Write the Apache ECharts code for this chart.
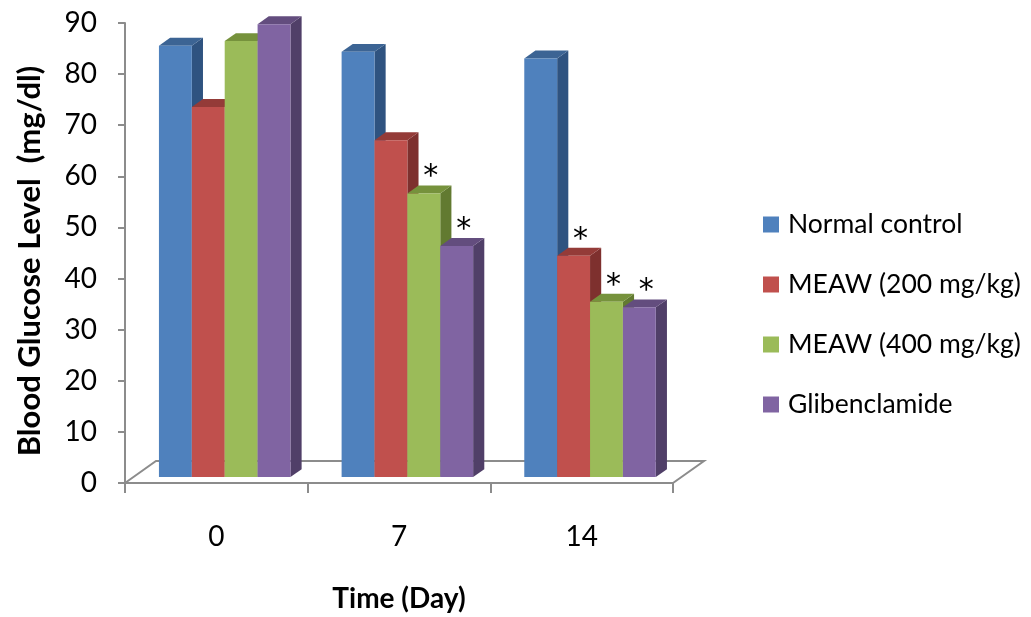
<!DOCTYPE html>
<html>
<head>
<meta charset="utf-8">
<script src="https://cdn.jsdelivr.net/npm/echarts@6/dist/echarts.min.js"></script>
<style>
  html, body { margin: 0; padding: 0; background: #ffffff; }
  #chart { width: 1031px; height: 617px; }
</style>
</head>
<body>
<div id="chart"></div>
<script>
// Blood glucose over the study period, by treatment group
const days = ['0', '7', '14'];
const seriesNames = ['Normal control', 'MEAW (200 mg/kg)', 'MEAW (400 mg/kg)', 'Glibenclamide'];
const normalControl = [84.4, 83.2, 81.9];
const meaw200 = [72.4, 65.9, 43.3];
const meaw400 = [85.3, 55.5, 34.3];
const glibenclamide = [88.6, 45.2, 33.2];
// significance marks (1 = "*")
const normalControlSig = [0, 0, 0];
const meaw200Sig = [0, 0, 1];
const meaw400Sig = [0, 1, 1];
const glibenclamideSig = [0, 1, 1];
const yTicks = { min: 0, max: 90, interval: 10 };

const seriesValues = [normalControl, meaw200, meaw400, glibenclamide];
const seriesSig = [normalControlSig, meaw200Sig, meaw400Sig, glibenclamideSig];

// face colours: front, top, side
const palette = [
  { front: '#4F81BD', top: '#3C6494', side: '#2F5380' },
  { front: '#C0504D', top: '#943B38', side: '#7E302E' },
  { front: '#9BBB59', top: '#76923C', side: '#627A31' },
  { front: '#8064A2', top: '#634D7E', side: '#503F68' }
];

// depth of the floor in pixels, and where the bars sit within it
const DEPTH = [31, -22];
const BAR_FRONT = 0.27;
const BAR_DEPTH = 0.36;
const GROUP_FRACTION = 0.72;
const AXIS_COLOR = '#8C8C8C';
const FONT = 'Lato, "Open Sans", sans-serif';

function barRenderer(sIdx) {
  return function (params, api) {
    const cat = api.value(0);
    const val = api.value(1);
    const sig = api.value(2);
    const base = api.coord([cat, 0]);
    const topPt = api.coord([cat, val]);
    const band = api.size([1, 0])[0];
    const groupW = band * GROUP_FRACTION;
    const barW = groupW / 4;
    const ox = DEPTH[0] * BAR_FRONT, oy = DEPTH[1] * BAR_FRONT;
    const dx = DEPTH[0] * BAR_DEPTH, dy = DEPTH[1] * BAR_DEPTH;
    const x0 = base[0] - groupW / 2 + sIdx * barW + ox;
    const x1 = x0 + barW;
    const yb = base[1] + oy;
    const yt = topPt[1] + oy;
    const c = palette[sIdx];
    const children = [
      { type: 'polygon', shape: { points: [[x1, yb], [x1 + dx, yb + dy], [x1 + dx, yt + dy], [x1, yt]] },
        style: { fill: c.side } },
      { type: 'polygon', shape: { points: [[x0, yt], [x1, yt], [x1 + dx, yt + dy], [x0 + dx, yt + dy]] },
        style: { fill: c.top } },
      { type: 'rect', shape: { x: x0, y: yt, width: barW, height: yb - yt },
        style: { fill: c.front } }
    ];
    if (sig) {
      children.push({
        type: 'text',
        style: {
          text: '*', x: (x0 + x1) / 2 + 7, y: yt - 16,
          fill: '#000000', font: '30px "DejaVu Sans", sans-serif', align: 'center', verticalAlign: 'middle'
        }
      });
    }
    return { type: 'group', children: children };
  };
}

// floor parallelogram behind the bars
function floorRenderer(params, api) {
  const start = api.coord([0, 0]);
  const band = api.size([1, 0])[0];
  const xl = start[0] - band / 2;
  const xr = xl + band * days.length;
  const y = start[1];
  return {
    type: 'polyline',
    shape: { points: [[xl, y], [xl + DEPTH[0], y + DEPTH[1]], [xr + DEPTH[0], y + DEPTH[1]], [xr, y]] },
    style: { stroke: AXIS_COLOR, lineWidth: 2, fill: null }
  };
}

const series = [{
  type: 'custom',
  name: 'floor',
  renderItem: floorRenderer,
  data: [[0, 0]],
  silent: true,
  z: 1
}];
seriesNames.forEach((name, i) => {
  series.push({
    type: 'custom',
    name: name,
    renderItem: barRenderer(i),
    itemStyle: { color: palette[i].front },
    encode: { x: 0, y: 1 },
    data: days.map((d, k) => [k, seriesValues[i][k], seriesSig[i][k]]),
    clip: false,
    z: 2
  });
});

const chart = echarts.init(document.getElementById('chart'), null, { renderer: 'canvas' });
chart.setOption({
  animation: false,
  backgroundColor: '#ffffff',
  grid: { left: 125, right: 358, top: 23, bottom: 134, containLabel: false, outerBoundsMode: 'none' },
  xAxis: {
    type: 'category',
    data: days,
    boundaryGap: true,
    name: 'Time (Day)',
    nameLocation: 'middle',
    nameGap: 102,
    nameTextStyle: { color: '#000000', fontFamily: FONT, fontWeight: 'bold', fontSize: 28 },
    axisLine: { lineStyle: { color: AXIS_COLOR, width: 2 } },
    axisTick: { show: true, length: 10, lineStyle: { color: AXIS_COLOR, width: 2 } },
    axisLabel: { color: '#000000', fontFamily: FONT, fontSize: 28, margin: 40 },
    splitLine: { show: false }
  },
  yAxis: {
    type: 'value',
    min: yTicks.min,
    max: yTicks.max,
    interval: yTicks.interval,
    name: 'Blood Glucose Level  (mg/dl)',
    nameLocation: 'middle',
    nameGap: 80,
    nameRotate: 90,
    nameTextStyle: { color: '#000000', fontFamily: FONT, fontWeight: 'bold', fontSize: 31, padding: [0, 16, 0, 0] },
    axisLine: { show: true, lineStyle: { color: AXIS_COLOR, width: 2 } },
    axisTick: { show: true, length: 7, lineStyle: { color: AXIS_COLOR, width: 2 } },
    axisLabel: { color: '#000000', fontFamily: FONT, fontSize: 28, margin: 28 },
    splitLine: { show: false }
  },
  legend: {
    data: seriesNames.map(n => ({ name: n, icon: 'rect' })),
    orient: 'vertical',
    left: 758,
    top: 206,
    itemWidth: 16,
    itemHeight: 16,
    itemGap: 33,
    textStyle: { color: '#000000', fontFamily: FONT, fontSize: 26.5, lineHeight: 27, padding: [0, 0, 0, 4] }
  },
  series: series
});
</script>
</body>
</html>
